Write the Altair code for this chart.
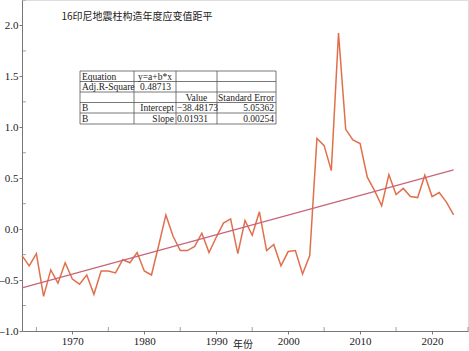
import altair as alt
import pandas as pd

years = list(range(1963, 2024))
values = [
    -0.26, -0.36, -0.24, -0.66, -0.40, -0.53, -0.33, -0.49, -0.54, -0.45,
    -0.64, -0.41, -0.41, -0.43, -0.30, -0.33, -0.23, -0.41, -0.45, -0.16,
    0.14, -0.07, -0.21, -0.21, -0.17, -0.04, -0.23, -0.08, 0.06, 0.10,
    -0.24, 0.085, -0.06, 0.17, -0.21, -0.15, -0.36, -0.22, -0.21, -0.44,
    -0.26, 0.89, 0.82, 0.575, 1.925, 0.98, 0.876, 0.84, 0.51, 0.38,
    0.23, 0.535, 0.34, 0.40, 0.32, 0.31, 0.53, 0.32, 0.36, 0.265, 0.14,
]
intercept = -38.48173
slope = 0.01931
fit_years = [1963, 2023]

title_text = "16印尼地震柱构造年度应变值距平"
x_title = "年份"

table_rows = [
    ["Equation", "y=a+b*x", "", ""],
    ["Adj.R-Square", "0.48713", "", ""],
    ["", "", "Value", "Standard Error"],
    ["B", "Intercept", "\u221238.48173", "5.05362"],
    ["B", "Slope", "0.01931", "0.00254"],
]

W, H = 446, 331
SERIF = "'Liberation Serif', 'Times New Roman', 'DejaVu Serif', serif"
CJK = "'Noto Sans CJK SC', sans-serif"
df = pd.DataFrame({"year": years, "value": values})
fit = pd.DataFrame({"year": fit_years,
                    "value": [intercept + slope * y for y in fit_years]})

xs = alt.Scale(domain=[1963, 2025], nice=False, zero=False)
ys = alt.Scale(domain=[-1.0, 2.25], nice=False, zero=False)

xax = alt.Axis(values=[1970, 1980, 1990, 2000, 2010, 2020], format="d",
               labelFont=SERIF, labelFontSize=11, labelColor="#222",
               tickColor="#777", domainColor="#777", tickSize=3,
               grid=False, title=None, labelPadding=1)
yax = alt.Axis(values=[-1.0, -0.5, 0.0, 0.5, 1.0, 1.5, 2.0], format=".1f",
               labelExpr="replace(datum.label, '\u2212', '\u2013')",
               labelFont=SERIF, labelFontSize=11, labelColor="#222",
               tickColor="#777", domainColor="#777", tickSize=3,
               grid=False, title=None, labelPadding=1)

base = alt.Chart(df)
line = base.mark_line(color="#E0704C", strokeWidth=1.5).encode(
    x=alt.X("year:Q", scale=xs, axis=xax),
    y=alt.Y("value:Q", scale=ys, axis=yax),
)
minor_x = alt.Chart(pd.DataFrame({"year": [1965, 1975, 1985, 1995, 2005, 2015, 2025]})).mark_tick(
    color="#777", size=4, thickness=1, orient="vertical"
).encode(x=alt.X("year:Q", scale=xs), y=alt.value(H - 2))
minor_y = alt.Chart(pd.DataFrame({"v": [-0.75, -0.25, 0.25, 0.75, 1.25, 1.75, 2.25]})).mark_tick(
    color="#777", size=4, thickness=1, orient="horizontal"
).encode(y=alt.Y("v:Q", scale=ys), x=alt.value(2))
fitline = alt.Chart(fit).mark_line(color="#C8647A", strokeWidth=1.2).encode(
    x=alt.X("year:Q", scale=xs), y=alt.Y("value:Q", scale=ys)
)

title = alt.Chart(pd.DataFrame({"t": [title_text]})).mark_text(
    font=CJK, fontSize=10, color="#222", align="center", baseline="middle"
).encode(text="t:N", x=alt.value(115), y=alt.value(17))

xtitle = alt.Chart(pd.DataFrame({"t": [x_title]})).mark_text(
    font=CJK, fontSize=10, color="#222", align="center", baseline="middle"
).encode(text="t:N", x=alt.value(221), y=alt.value(H + 14))

# table geometry (pixels inside plot area)
col_edges = [58, 112, 154, 195, 254]
row_edges = [71, 81.5, 92, 102.5, 113, 124]
hlines = pd.DataFrame({"x": [col_edges[0]] * len(row_edges), "x2": [col_edges[-1]] * len(row_edges),
                       "y": row_edges, "y2": row_edges})
vlines = pd.DataFrame({"x": col_edges, "x2": col_edges,
                       "y": [row_edges[0]] * len(col_edges), "y2": [row_edges[-1]] * len(col_edges)})
grid_df = pd.concat([hlines, vlines])
table_lines = alt.Chart(grid_df).mark_rule(color="#555", strokeWidth=0.8).encode(
    x=alt.X("x:Q", scale=None), x2="x2:Q", y=alt.Y("y:Q", scale=None), y2="y2:Q"
)

aligns = {
    (0, 0): "left", (0, 1): "left",
    (1, 0): "left", (1, 1): "left",
    (2, 2): "center", (2, 3): "left",
    (3, 0): "left", (3, 1): "right", (3, 2): "left", (3, 3): "right",
    (4, 0): "left", (4, 1): "right", (4, 2): "left", (4, 3): "right",
}
recs = []
for r, row in enumerate(table_rows):
    for c, txt in enumerate(row):
        if not txt:
            continue
        a = aligns.get((r, c), "left")
        if a == "left":
            px = col_edges[c] + 2 if c != 1 else col_edges[c] + 4
        elif a == "right":
            px = col_edges[c + 1] - 2
        else:
            px = (col_edges[c] + col_edges[c + 1]) / 2
        if (r, c) == (1, 1):
            px = col_edges[c] + 6
        if c == 2 and r >= 3:
            px = col_edges[c] + 1
        if (r, c) == (2, 3):
            px = col_edges[c] + 1
        recs.append({"t": txt, "x": px, "y": (row_edges[r] + row_edges[r + 1]) / 2 + 0.5, "a": a})
tdf = pd.DataFrame(recs)
table_text_layers = []
for a in ["left", "right", "center"]:
    sub = tdf[tdf["a"] == a]
    table_text_layers.append(
        alt.Chart(sub).mark_text(font=SERIF, fontSize=9.5, color="#222", align=a, baseline="middle").encode(
            text="t:N", x=alt.X("x:Q", scale=None), y=alt.Y("y:Q", scale=None)
        )
    )

chart = alt.layer(line, fitline, minor_x, minor_y, title, xtitle, table_lines, *table_text_layers).properties(
    width=W, height=H,
    autosize=alt.AutoSizeParams(type="none"),
    padding={"left": 22, "top": 0, "right": 1, "bottom": 20},
).configure_view(stroke=None).configure(background="white")

chart.save("out.html", embed_options={"renderer": "svg", "actions": False})
